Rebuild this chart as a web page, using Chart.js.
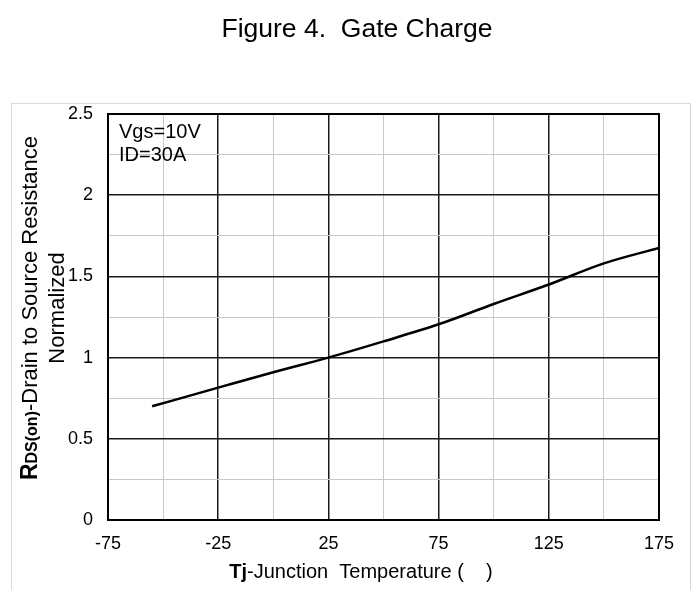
<!DOCTYPE html>
<html>
<head>
<meta charset="utf-8">
<script src="https://cdn.jsdelivr.net/npm/chart.js@4.4.1/dist/chart.umd.min.js"></script>
<style>
  html, body { margin: 0; padding: 0; background: #fff; }
  #wrap { width: 698px; height: 590px; position: relative; }
</style>
</head>
<body>
<div id="wrap"><canvas id="rdsChart"></canvas></div>
<script>
// Tj (°C) vs normalized RDS(on)
const temps = [-55, -25, 0, 25, 50, 75, 100, 125, 150, 175];
const rdsNorm = [0.70, 0.815, 0.91, 1.0, 1.10, 1.205, 1.33, 1.45, 1.58, 1.675];
const xTickLabels = [-75, -25, 25, 75, 125, 175];
const yTickLabels = [0, 0.5, 1, 1.5, 2, 2.5];
const noteLines = ['Vgs=10V', 'ID=30A'];

const FONT = 'Arial, "Liberation Sans", sans-serif';

// Titles, notes and frames drawn on top
const decorations = {
    id: 'decorations',
    afterDraw(chart) {
        const ctx = chart.ctx;
        const a = chart.chartArea;
        ctx.save();

        // outer light frame
        ctx.strokeStyle = '#d9d9d9';
        ctx.lineWidth = 1;
        ctx.strokeRect(11.5, 103.5, 679, 520);

        // plot border
        ctx.strokeStyle = '#000';
        ctx.lineWidth = 2;
        ctx.strokeRect(a.left, a.top, a.right - a.left, a.bottom - a.top);

        ctx.fillStyle = '#000';
        ctx.textBaseline = 'alphabetic';

        // figure title
        ctx.font = '26.5px ' + FONT;
        ctx.textAlign = 'center';
        ctx.fillText('Figure 4.  Gate Charge', 357, 37);

        // note text
        ctx.font = '20px ' + FONT;
        ctx.textAlign = 'left';
        noteLines.forEach((t, i) => ctx.fillText(t, 119, 138 + i * 23));

        // x title: bold "Tj" + normal rest
        const xParts = [
            { t: 'Tj', f: 'bold 20px ' + FONT },
            { t: '-Junction  Temperature (    )', f: '20px ' + FONT }
        ];
        drawParts(ctx, xParts, 361, 578);

        // y title, rotated
        ctx.save();
        ctx.translate(29, 308);
        ctx.rotate(-Math.PI / 2);
        const yParts = [
            { t: 'R', f: 'bold 23px ' + FONT },
            { t: 'DS(on)', f: 'bold 16px ' + FONT },
            { t: '-Drain to Source Resistance', f: '22px ' + FONT }
        ];
        drawParts(ctx, yParts, 0, 8);
        ctx.font = '22px ' + FONT;
        ctx.textAlign = 'center';
        ctx.fillText('Normalized', 0, 35);
        ctx.restore();

        ctx.restore();
    }
};

function drawParts(ctx, parts, cx, y) {
    let total = 0;
    parts.forEach(p => { ctx.font = p.f; total += ctx.measureText(p.t).width; });
    let x = cx - total / 2;
    ctx.textAlign = 'left';
    parts.forEach(p => {
        ctx.font = p.f;
        ctx.fillText(p.t, x, y);
        x += ctx.measureText(p.t).width;
    });
}

function gridColor(isMajor) {
    return isMajor ? '#1a1a1a' : '#c8c8c8';
}

const ctx = document.getElementById('rdsChart').getContext('2d');
new Chart(ctx, {
    type: 'line',
    data: {
        datasets: [{
            data: temps.map((t, i) => ({ x: t, y: rdsNorm[i] })),
            borderColor: '#000',
            borderWidth: 2.5,
            pointRadius: 0,
            fill: false,
            tension: 0.3,
            cubicInterpolationMode: 'monotone'
        }]
    },
    options: {
        responsive: true,
        maintainAspectRatio: false,
        animation: false,
        layout: { padding: { top: 114, right: 39, left: 0, bottom: 0 } },
        plugins: {
            legend: { display: false },
            title: { display: false },
            tooltip: { enabled: false }
        },
        scales: {
            x: {
                type: 'linear',
                min: -75,
                max: 175,
                afterFit(scale) { scale.height = 70; },
                afterBuildTicks(scale) {
                    const ticks = [];
                    for (let v = -75; v <= 175; v += 25) ticks.push({ value: v });
                    scale.ticks = ticks;
                },
                ticks: {
                    color: '#000',
                    font: { family: FONT, size: 18 },
                    padding: 13,
                    maxRotation: 0,
                    autoSkip: false,
                    callback: v => xTickLabels.includes(v) ? String(v) : ''
                },
                grid: {
                    drawTicks: false,
                    color: c => gridColor(xTickLabels.includes(c.tick.value)),
                    lineWidth: c => xTickLabels.includes(c.tick.value) ? 1.5 : 1
                },
                border: { display: false }
            },
            y: {
                type: 'linear',
                min: 0,
                max: 2.5,
                afterFit(scale) { scale.width = 108; },
                afterBuildTicks(scale) {
                    const ticks = [];
                    for (let v = 0; v <= 2.5001; v += 0.25) ticks.push({ value: Math.round(v * 100) / 100 });
                    scale.ticks = ticks;
                },
                ticks: {
                    color: '#000',
                    font: { family: FONT, size: 18 },
                    padding: 15,
                    autoSkip: false,
                    callback: v => yTickLabels.includes(v) ? String(v) : ''
                },
                grid: {
                    drawTicks: false,
                    color: c => gridColor(yTickLabels.includes(c.tick.value)),
                    lineWidth: c => yTickLabels.includes(c.tick.value) ? 1.5 : 1
                },
                border: { display: false }
            }
        }
    },
    plugins: [decorations]
});
</script>
</body>
</html>
